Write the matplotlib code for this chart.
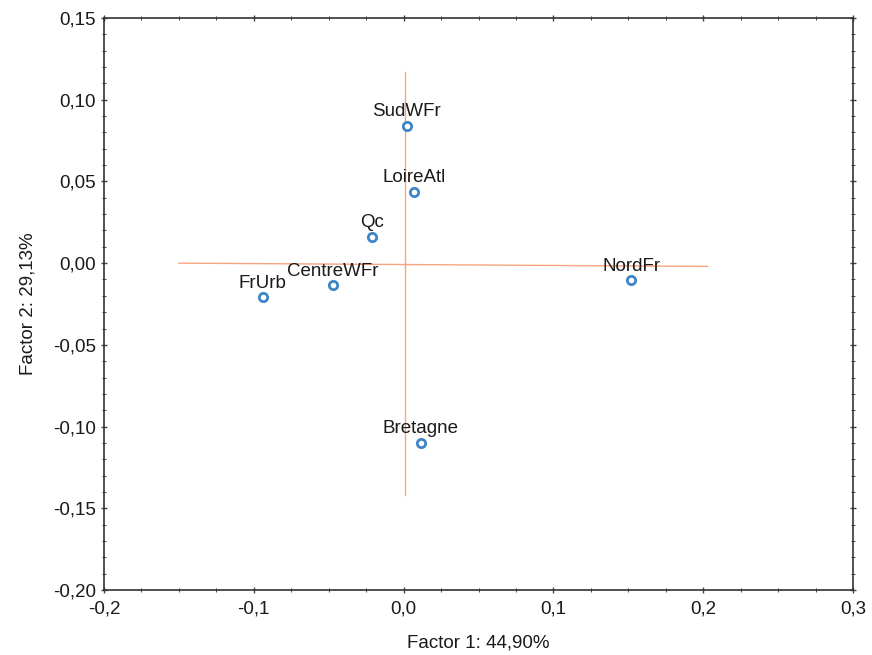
import matplotlib
matplotlib.use("Agg")
import matplotlib.pyplot as plt
from matplotlib.ticker import MultipleLocator, FuncFormatter

plt.rcParams['font.family'] = ['Liberation Sans', 'DejaVu Sans']

labels = ["SudWFr", "LoireAtl", "Qc", "CentreWFr", "FrUrb", "NordFr", "Bretagne"]
factor1 = [0.002, 0.0067, -0.021, -0.047, -0.094, 0.152, 0.0113]
factor2 = [0.084, 0.0435, 0.016, -0.0135, -0.021, -0.0104, -0.110]

xlabel = "Factor 1: 44,90%"
ylabel = "Factor 2: 29,13%"

fig = plt.figure(figsize=(8.72, 6.55), dpi=100)
ax = fig.add_axes([104/872, 1-590/655, (853-104)/872, (590-18)/655])

ax.set_xlim(-0.2, 0.3)
ax.set_ylim(-0.20, 0.15)

# origin reference lines
ax.plot([-0.15, 0.203], [0.0, -0.002], color="#f5a47e", lw=1.0, zorder=1)
ax.plot([0.001, 0.001], [-0.142, 0.117], color="#f5a47e", lw=1.0, zorder=1)

ax.plot(factor1, factor2, linestyle="none", marker="o", markersize=6,
        markerfacecolor="white", markeredgecolor="#3f86c6", markeredgewidth=2, zorder=3)
for lab, x, y in zip(labels, factor1, factor2):
    ax.annotate(lab, (x, y), xytext=(0, 4), textcoords="offset points",
                ha="center", va="bottom", fontsize=13.5, color="#1a1a1a", zorder=4)

ax.xaxis.set_major_locator(MultipleLocator(0.1))
ax.xaxis.set_minor_locator(MultipleLocator(0.025))
ax.yaxis.set_major_locator(MultipleLocator(0.05))
ax.yaxis.set_minor_locator(MultipleLocator(0.01))

ax.xaxis.set_major_formatter(FuncFormatter(lambda v, p: f"{v:.1f}".replace(".", ",").replace("-0,0", "0,0")))
ax.yaxis.set_major_formatter(FuncFormatter(lambda v, p: f"{v:.2f}".replace(".", ",").replace("-0,00", "0,00")))

ax.tick_params(which="both", direction="inout", top=True, right=True, colors="#444444", labelcolor="#1a1a1a")
ax.tick_params(which="major", length=5, width=1, labelsize=13.5)
ax.tick_params(which="minor", length=3, width=0.7)
ax.tick_params(axis="x", pad=5)
for s in ax.spines.values():
    s.set_color("#333333")
    s.set_linewidth(1.2)

ax.set_xlabel(xlabel, fontsize=13.5, color="#1a1a1a", labelpad=12)
ax.set_ylabel(ylabel, fontsize=13.5, color="#1a1a1a", labelpad=12)

fig.savefig("out.png", dpi=100)
